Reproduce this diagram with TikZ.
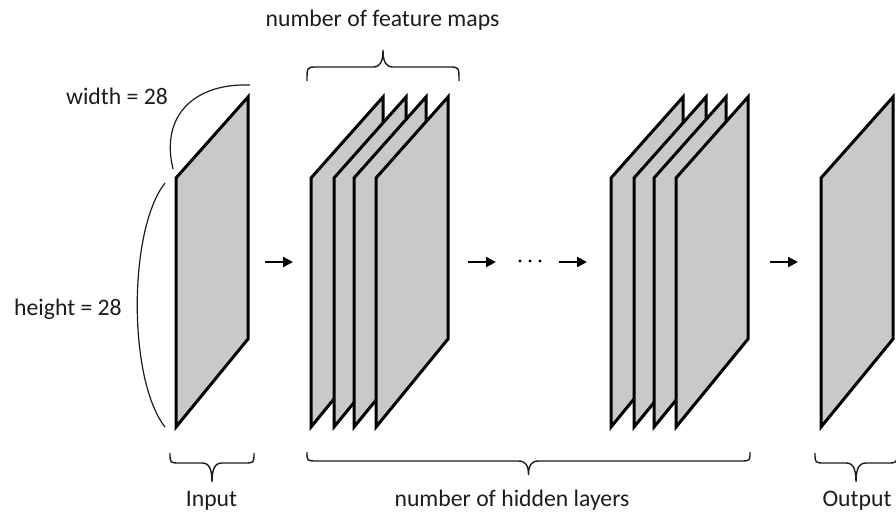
\documentclass[tikz,border=0pt]{standalone}
\usepackage{fontspec}
\setmainfont{Carlito}
\usetikzlibrary{arrows.meta}

\definecolor{sheetgray}{RGB}{201,201,201}
\definecolor{inkgray}{RGB}{28,28,28}

% one feature map, drawn as a slanted sheet; #1 = x of its left edge
\newcommand{\featuresheet}[1]{%
  \draw[sheet] (#1,178) -- ({#1+72},97) -- ({#1+72},339) -- (#1,427) -- cycle;}

% curly brace; #1 left x, #2 right x, #3 y of the ends, #4 y of the flat part, #5 y of the tip
\newcommand{\curlybrace}[5]{%
  \pgfmathsetmacro\bmid{(#1+#2)/2}%
  \draw[bracestyle] (#1,#3) .. controls (#1,#4) and (#1,#4) .. ({#1+10},#4)
    -- ({\bmid-10},#4) .. controls ({\bmid-3},#4) and (\bmid,{#4+(#5-#4)*0.3}) .. (\bmid,#5)
    .. controls (\bmid,{#4+(#5-#4)*0.3}) and ({\bmid+3},#4) .. ({\bmid+10},#4)
    -- ({#2-10},#4) .. controls (#2,#4) and (#2,#4) .. (#2,#3);}

\tikzset{
  sheet/.style={draw=black, fill=sheetgray, line width=3pt, line join=miter},
  bracestyle/.style={draw=inkgray, line width=1.4pt},
  dimarc/.style={draw=inkgray, line width=1.2pt},
  flow/.style={draw=black, line width=2.2pt, -{Triangle[length=10pt,width=10pt]}},
  lbl/.style={font=\fontsize{23.7}{28}\selectfont, text=inkgray, inner sep=0pt, anchor=base}
}

\begin{document}
\begin{tikzpicture}[x=1pt, y=-1pt]
\useasboundingbox (0,0) rectangle (896,512);

% input image
\featuresheet{176}

% first hidden layer: four feature maps, back to front
\featuresheet{311}
\featuresheet{334}
\featuresheet{354}
\featuresheet{376}

% last hidden layer
\featuresheet{611}
\featuresheet{634}
\featuresheet{654}
\featuresheet{676}

% output
\featuresheet{821}

% width and height markers of the input
\draw[dimarc] (250,85) .. controls (195,83) and (160,115) .. (173,169);
\draw[dimarc] (165,183) .. controls (128,230) and (128,380) .. (165,427);

% flow between layers
\coordinate (a1s) at (265,262);  \coordinate (a1e) at (293,262);
\coordinate (a2s) at (468,262);  \coordinate (a2e) at (496,262);
\coordinate (a3s) at (559,262);  \coordinate (a3e) at (587,262);
\coordinate (a4s) at (770,262);  \coordinate (a4e) at (798,262);
\draw[flow] (a1s) -- (a1e);
\draw[flow] (a2s) -- (a2e);
\draw[flow] (a3s) -- (a3e);
\draw[flow] (a4s) -- (a4e);
\coordinate (d1) at (520,261); \coordinate (d2) at (530,261); \coordinate (d3) at (540,261);
\fill[black] (d1) circle (1.7) (d2) circle (1.7) (d3) circle (1.7);

% braces
\curlybrace{307}{459}{81}{67}{50}
\curlybrace{170}{254}{453}{463}{482}
\curlybrace{307}{750}{452}{461}{475}
\curlybrace{815}{897}{453}{463}{482}

% labels
\node[lbl] (fmaps) at (382.5,26) {number of feature maps};
\node[lbl] (wlbl) at (117,104) {width = 28};
\node[lbl] (hlbl) at (68,315) {height = 28};
\node[lbl] (inlbl) at (211.5,506.5) {Input};
\node[lbl] (hidlbl) at (512,506.5) {number of hidden layers};
\node[lbl] (outlbl) at (857,506.5) {Output};
\end{tikzpicture}
\end{document}
